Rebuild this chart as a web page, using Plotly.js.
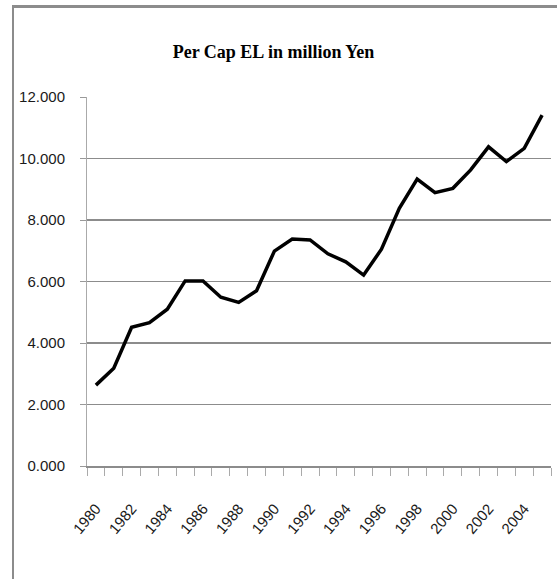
<!DOCTYPE html>
<html>
<head>
<meta charset="utf-8">
<script src="https://cdn.plot.ly/plotly-3.0.1.min.js"></script>
<style>
  html, body { margin: 0; padding: 0; background: #ffffff; }
  #frame { position: absolute; left: 12px; top: 5px; width: 560px; height: 590px;
           border-left: 2px solid #8c8c8c; border-top: 3px solid #8c8c8c; box-sizing: border-box; }
  #chart { position: absolute; left: 0; top: 0; width: 557px; height: 579px; }
</style>
</head>
<body>
<div id="frame"></div>
<div id="chart"></div>
<script>
const years = [1980,1981,1982,1983,1984,1985,1986,1987,1988,1989,1990,1991,1992,
               1993,1994,1995,1996,1997,1998,1999,2000,2001,2002,2003,2004,2005];
const perCapEL = [2.63,3.18,4.51,4.66,5.10,6.02,6.02,5.49,5.32,5.70,6.99,7.38,7.35,
                  6.90,6.64,6.21,7.05,8.38,9.33,8.89,9.03,9.63,10.38,9.90,10.33,11.41];
const tickYears = [1980,1982,1984,1986,1988,1990,1992,1994,1996,1998,2000,2002,2004];
const tickLabels = tickYears.map(String);
const yTicks = [0,2,4,6,8,10,12];
const chartTitle = "Per Cap EL in million Yen";

const tickFont = { family: "Liberation Sans, Arial, sans-serif", size: 15, color: "#1a1a1a" };

Plotly.newPlot("chart", [{
  x: years, y: perCapEL, type: "scatter", mode: "lines",
  line: { color: "#000000", width: 3.5 }, hoverinfo: "skip"
}], {
  width: 557, height: 579,
  margin: { l: 87, r: 6, t: 97, b: 113 },
  paper_bgcolor: "rgba(0,0,0,0)", plot_bgcolor: "rgba(0,0,0,0)",
  showlegend: false,
  title: { text: chartTitle, x: 0.491, xref: "container", xanchor: "center", y: 0.91, yanchor: "middle",
           font: { family: "Liberation Serif, Times New Roman, serif", size: 18, color: "#000000", weight: "bold" } },
  xaxis: {
    type: "linear", range: [1979.5, 2005.5], fixedrange: true,
    tickmode: "array", tickvals: tickYears, ticktext: tickLabels,
    tickangle: -50, tickfont: tickFont, ticks: "", ticklabelstandoff: 26,
    showgrid: false, zeroline: false,
    showline: true, linecolor: "#8c8c8c", linewidth: 2,
    minor: { tick0: 1979.5, dtick: 1, ticks: "outside", ticklen: 8, tickwidth: 1, tickcolor: "#aaaaaa", showgrid: false }
  },
  yaxis: {
    range: [0, 12], fixedrange: true,
    tickmode: "array", tickvals: yTicks, tickformat: ".3f",
    tickfont: tickFont, ticks: "outside", ticklen: 6, tickcolor: "#999999", tickwidth: 1,
    ticklabelstandoff: 12,
    showgrid: true, gridcolor: "#8c8c8c", gridwidth: 1.5, zeroline: false,
    showline: true, linecolor: "#aaaaaa", linewidth: 1
  }
}, { staticPlot: true, displayModeBar: false });
</script>
</body>
</html>
